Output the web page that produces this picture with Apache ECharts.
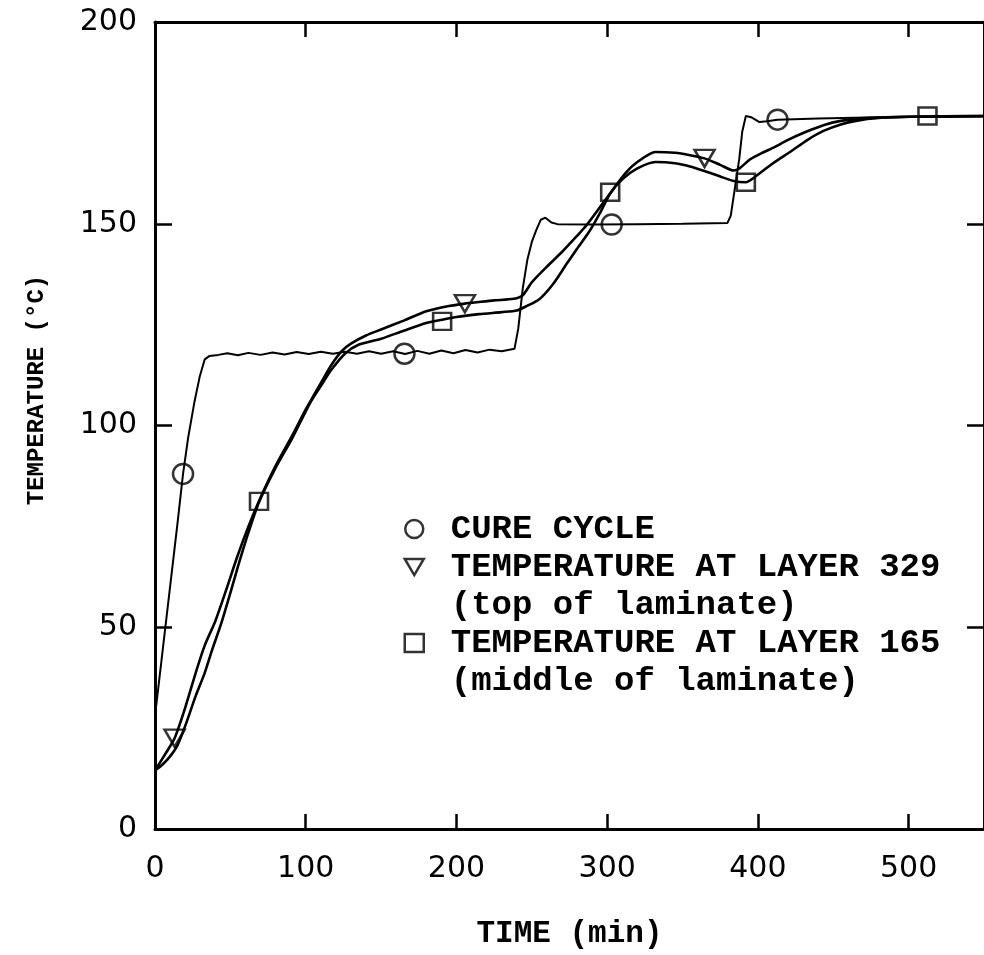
<!DOCTYPE html>
<html>
<head>
<meta charset="utf-8">
<script src="https://cdn.jsdelivr.net/npm/echarts@6/dist/echarts.min.js"></script>
<style>html,body{margin:0;padding:0;background:#fff}#c{width:984px;height:955px}</style>
</head>
<body>
<div id="c"></div>
<script>
// ---- data ----
const seriesNames = ['CURE CYCLE', 'TEMPERATURE AT LAYER 329\n(top of laminate)', 'TEMPERATURE AT LAYER 165\n(middle of laminate)'];
const xTitle = 'TIME (min)';
const yTitle = 'TEMPERATURE (°C)';

const cureCycle = [[0,28],[5,44],[10,60],[15,76],[18.6,88],[22,97],[26,105.5],[29.6,112],[33,116.4],[36,117.2],[42,117.5],[48,117.9],[55,117.4],[62,118],[70,117.5],[78,118.1],[86,117.6],[94,118.2],[102,117.7],[110,118.3],[118,117.8],[126,118.3],[134,117.8],[142,118.4],[150,117.8],[158,118.4],[166,117.7],[174,118.5],[182,117.8],[190,118.6],[198,117.9],[206,118.7],[214,118.1],[222,118.8],[230,118.4],[238.5,119],[241,124],[244,134],[247,141],[250,145.5],[253,148.5],[256,151],[259,151.5],[263,150.3],[267,149.9],[290,149.8],[320,149.9],[350,150],[379.8,150.2],[382,152],[384.4,158],[387.6,166],[389.6,172.8],[392,176.7],[395.5,176.4],[401,175.2],[406,175.4],[413,175.8],[440,176.1],[480,176.4],[550,176.6]];

const layer329 = [[0,14.5],[5,17.5],[10,20.5],[13,22.5],[16,25.5],[20,30],[27,38.7],[33,45.5],[40,51.5],[47,59],[54.5,67.4],[62,75],[69,81.3],[80,90],[91,97.5],[100,104],[104,106.6],[110,110.5],[117,115],[124,118.5],[130,120.3],[140,122.3],[150,123.8],[165,126],[180,128.3],[195,129.6],[205.6,130.2],[215,130.6],[225,131],[238,131.4],[244,132.3],[250,135.5],[259.5,139.2],[270,143],[280,147],[286,149.5],[295,154],[303.5,158.3],[312,162.5],[320,165.3],[332,167.8],[345,167.6],[355,167],[364.6,166.2],[375,164.6],[384,163.2],[388,163.8],[395,166],[403,167.6],[411,169],[420,170.8],[432,172.8],[444,174.5],[455,175.5],[466,176],[480,176.3],[500,176.5],[550,176.7]];

const layer165 = [[0,14.5],[5,16],[10,18],[15,20.8],[20,25.5],[27,33],[33,38.7],[38,44.5],[44,51],[50,58.5],[55,65],[62,73.5],[69,81],[80,89.5],[91,96.8],[100,103.5],[104,106.3],[110,109.8],[117,113.8],[126,117.8],[135,120],[150,121.5],[165,123.5],[180,125.4],[190.5,126.2],[200,126.9],[215,127.6],[230,128.1],[240,128.5],[246,129.5],[255,131.3],[264,135],[273,140],[280,143.8],[288,148],[295,152.5],[302,157.5],[310,161],[320,163.7],[332,165.3],[345,165],[355,164.2],[365,163],[375,161.7],[384,160.6],[392,160.3],[398,161.6],[410,165],[421.8,167.9],[433,170.8],[443.5,173],[455,174.6],[465,175.5],[480,176.2],[500,176.5],[550,176.7]];

const cureMarks = [[18.6,88],[165.5,117.8],[303,149.8],[413,175.8]];
const layer329Marks = [[13,22.5],[205.6,130.2],[364.6,166.2]];
const layer165Marks = [[69,81.2],[190.5,125.8],[302,157.8],[392,160.3],[512.5,176.7]];

// ---- chart ----
const chart = echarts.init(document.getElementById('c'), null, {renderer: 'canvas'});
const BLACK = '#000';
const axisLine = {show: true, onZero: false, lineStyle: {color: BLACK, width: 3}};
const axisTick = {show: true, inside: true, length: 15, lineStyle: {color: BLACK, width: 2.5}};
const tickFont = {fontFamily: 'DejaVu Sans', fontSize: 30, color: BLACK};
const monoFont = {fontFamily: 'Liberation Mono', fontWeight: 'bold', color: BLACK};
const hollow = {color: 'rgba(0,0,0,0)', borderColor: BLACK, borderWidth: 2.5};
const LH = 38;
const downTriangle = 'path://M0,0L20,0L10,17Z';

function legendText(name) {
  const lines = name.split('\n');
  const body = lines.map(function (l) { return '{p|}{t|' + l + '}'; }).join('\n');
  return lines.length > 1 ? '{p|}\n' + body : body;
}

const option = {
  animation: false,
  backgroundColor: '#fff',
  grid: {left: 155, right: -8, top: 22, bottom: 117, containLabel: false},
  xAxis: [
    {type: 'value', position: 'bottom', min: 0, max: 550, interval: 100,
     axisLine: axisLine, axisTick: axisTick, splitLine: {show: false},
     axisLabel: Object.assign({margin: 25, showMaxLabel: false}, tickFont),
     name: xTitle, nameLocation: 'middle', nameGap: 90,
     nameTextStyle: Object.assign({fontSize: 31}, monoFont)},
    {type: 'value', position: 'top', min: 0, max: 550, interval: 100,
     axisLine: axisLine, axisTick: axisTick, splitLine: {show: false}, axisLabel: {show: false}}
  ],
  yAxis: [
    {type: 'value', position: 'left', min: 0, max: 200, interval: 50,
     axisLine: axisLine, axisTick: Object.assign({}, axisTick, {length: 17}), splitLine: {show: false},
     axisLabel: Object.assign({margin: 18}, tickFont)},
    {type: 'value', position: 'right', min: 0, max: 200, interval: 50,
     axisLine: axisLine, axisTick: Object.assign({}, axisTick, {length: 17}), splitLine: {show: false}, axisLabel: {show: false}}
  ],
  legend: {
    orient: 'vertical', left: 403.5, top: 510, padding: 0, itemGap: -LH,
    itemWidth: 19, itemHeight: 18, selectedMode: false,
    itemStyle: {color: 'rgba(0,0,0,0)', borderColor: BLACK, borderWidth: 2.5},
    formatter: legendText,
    textStyle: Object.assign({fontSize: 34, lineHeight: LH}, monoFont, {
      rich: {
        p: {width: 22, lineHeight: LH, fontSize: 34},
        t: Object.assign({fontSize: 34, lineHeight: LH}, monoFont)
      }
    }),
    data: [
      {name: seriesNames[0], icon: 'circle'},
      {name: seriesNames[1], icon: downTriangle},
      {name: seriesNames[2], icon: 'rect'}
    ]
  },
  graphic: [{
    type: 'text', x: 37, y: 390, rotation: Math.PI / 2, silent: true,
    style: {text: yTitle, fontFamily: 'Liberation Mono', fontWeight: 'bold', fontSize: 24,
            fill: BLACK, align: 'center', verticalAlign: 'middle', textAlign: 'center', textVerticalAlign: 'middle'}
  }],
  series: [
    {type: 'line', name: 'cure-line', data: cureCycle, showSymbol: false, symbol: 'none',
     lineStyle: {color: BLACK, width: 2}, z: 2},
    {type: 'line', name: 'l329-line', data: layer329, showSymbol: false, symbol: 'none', smooth: 0.25,
     lineStyle: {color: BLACK, width: 2.6}, z: 2},
    {type: 'line', name: 'l165-line', data: layer165, showSymbol: false, symbol: 'none', smooth: 0.25,
     lineStyle: {color: BLACK, width: 2.6}, z: 2},
    {type: 'scatter', name: seriesNames[0], data: cureMarks, symbol: 'circle', symbolSize: 20,
     itemStyle: hollow, z: 3},
    {type: 'scatter', name: seriesNames[1], data: layer329Marks, symbol: 'triangle', symbolSize: [20, 17], symbolRotate: 180,
     itemStyle: hollow, z: 3},
    {type: 'scatter', name: seriesNames[2], data: layer165Marks, symbol: 'rect', symbolSize: [18, 17],
     itemStyle: hollow, z: 3}
  ]
};
chart.setOption(option);
</script>
</body>
</html>
